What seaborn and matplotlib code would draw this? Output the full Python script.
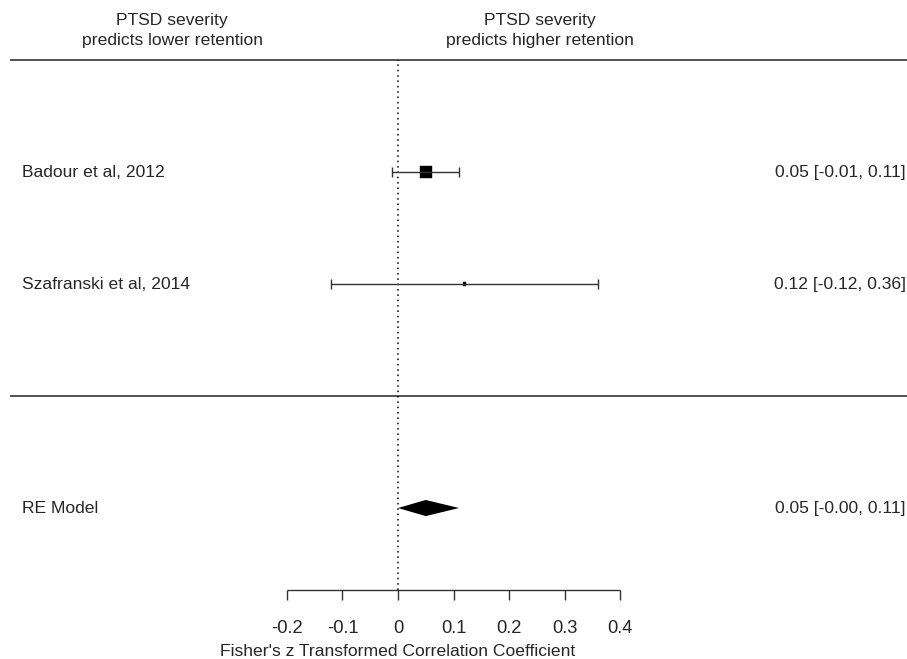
import matplotlib
matplotlib.use("Agg")
import matplotlib.pyplot as plt
import seaborn as sns
import pandas as pd

# study data
studies = ["Badour et al, 2012", "Szafranski et al, 2014"]
estimates = [0.05, 0.12]
ci_lower = [-0.01, -0.12]
ci_upper = [0.11, 0.36]
weights = [94.0, 6.0]
rows = [2, 1]

# pooled random-effects estimate
re_label = "RE Model"
re_est = 0.05
re_lower = -0.00
re_upper = 0.11
re_row = -1

ticks = [-0.2, -0.1, 0, 0.1, 0.2, 0.3, 0.4]
tick_labels = ["-0.2", "-0.1", "0", "0.1", "0.2", "0.3", "0.4"]
xlabel = "Fisher's z Transformed Correlation Coefficient"
header_left = "PTSD severity\npredicts lower retention"
header_right = "PTSD severity\npredicts higher retention"

df = pd.DataFrame({"study": studies, "est": estimates, "lo": ci_lower,
                   "hi": ci_upper, "w": weights, "row": rows})

sns.set_theme(style="white")
plt.rcParams["font.family"] = ["Liberation Sans", "DejaVu Sans"]

fig = plt.figure(figsize=(9.07, 6.59), dpi=100)
ax = fig.add_axes([0, 0, 1, 1])
ax.set_xlim(-0.717, 0.917)
ax.set_ylim(-2.348, 3.536)
ax.axis("off")

fs = 12.6
lc = "#333333"

# horizontal separators
ax.hlines([3, 0], -0.699, 0.917, color=lc, lw=1.2)
# reference line at zero
ax.vlines(0, -1.73, 3, color="black", lw=1.1, linestyles=(0, (1, 2.5)))

# CIs and caps
ax.hlines(df["row"], df["lo"], df["hi"], color=lc, lw=1)
cap = 0.045
for _, r in df.iterrows():
    ax.vlines([r["lo"], r["hi"]], r["row"] - cap, r["row"] + cap, color=lc, lw=1)

sns.scatterplot(data=df, x="est", y="row", size="w", sizes=(6, 75),
                marker="s", color="black", edgecolor="black", legend=False, ax=ax)

# pooled diamond
h = 0.072
ax.fill([re_lower, re_est, re_upper, re_est], [re_row, re_row + h, re_row, re_row - h],
        color="black", lw=0)

# labels
for _, r in df.iterrows():
    ax.text(-0.678, r["row"], r["study"], ha="left", va="center", fontsize=fs)
    ax.text(0.915, r["row"], f"{r['est']:.2f} [{r['lo']:.2f}, {r['hi']:.2f}]",
            ha="right", va="center", fontsize=fs)
ax.text(-0.678, re_row, re_label, ha="left", va="center", fontsize=fs)
ax.text(0.915, re_row, f"{re_est:.2f} [-{abs(re_lower):.2f}, {re_upper:.2f}]",
        ha="right", va="center", fontsize=fs)

# headers
ax.text(-0.407, 3.265, header_left, ha="center", va="center", fontsize=fs, linespacing=1.4)
ax.text(0.255, 3.265, header_right, ha="center", va="center", fontsize=fs, linespacing=1.4)

# bottom axis
axis_y = -1.73
ax.hlines(axis_y, ticks[0], ticks[-1], color=lc, lw=1)
ax.vlines(ticks, axis_y - 0.09, axis_y, color=lc, lw=1)
for t, lab in zip(ticks, tick_labels):
    ax.text(t, -2.08, lab, ha="center", va="center", fontsize=fs + 0.6)
ax.text(0, -2.28, xlabel, ha="center", va="center", fontsize=fs)

fig.savefig("out.png", dpi=100)
